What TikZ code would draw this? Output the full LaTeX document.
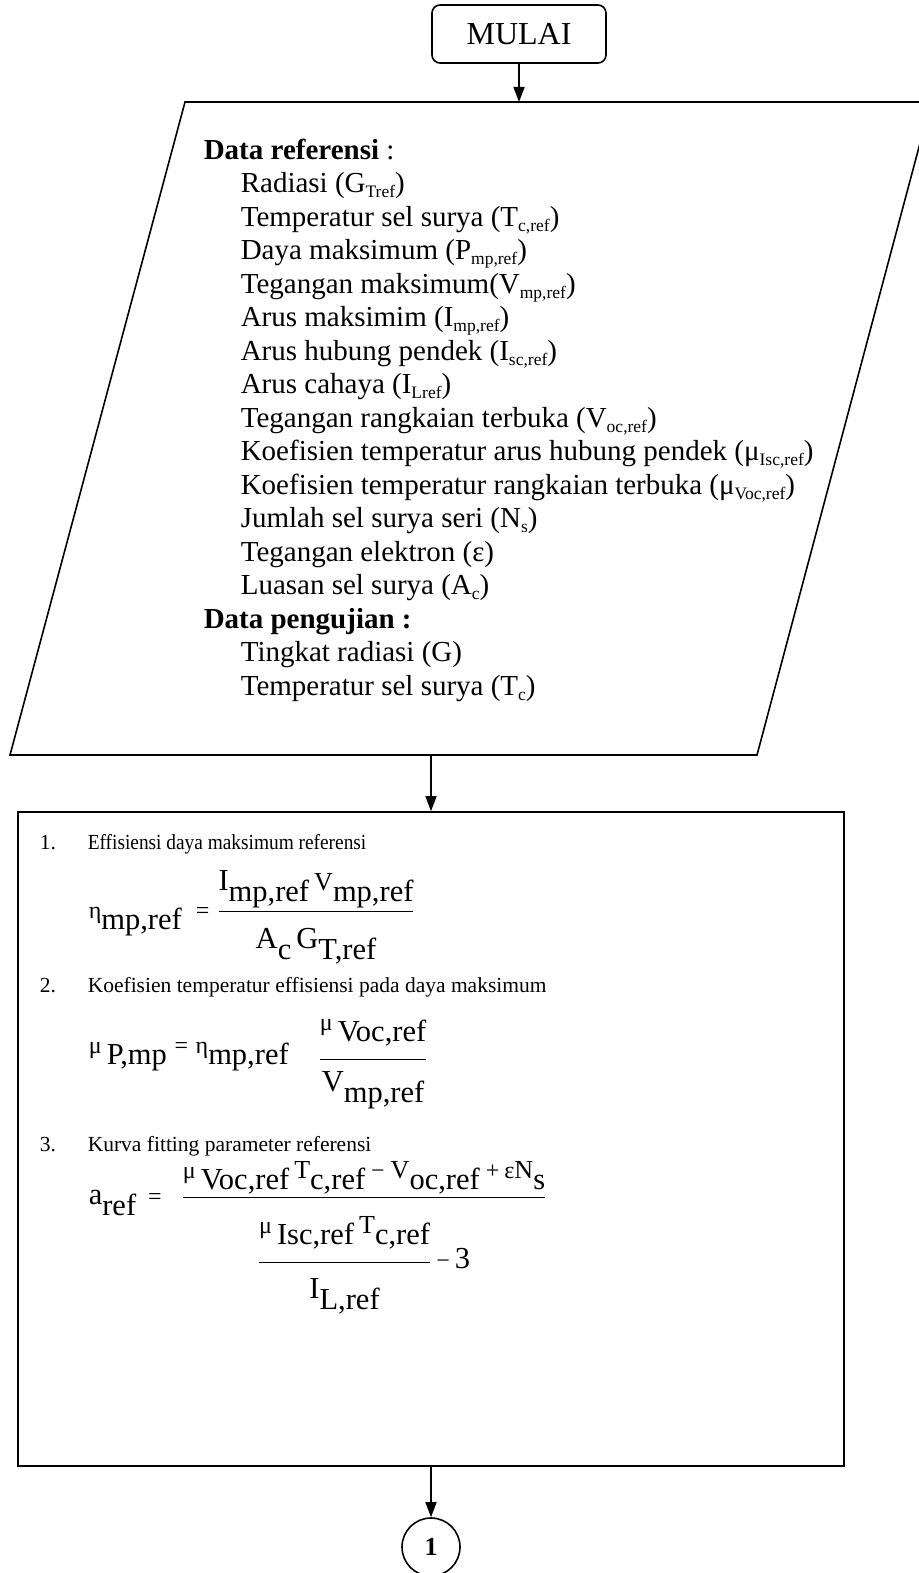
\documentclass[tikz,border=0pt]{standalone}
\usepackage{fontspec}
\setmainfont{Liberation Serif}
\usepackage{amsmath}
\usepackage{graphicx}
\usetikzlibrary{positioning,arrows.meta}

\newcommand{\sbs}[1]{\raisebox{-5pt}{\fontsize{17.5}{17.5}\selectfont #1}}
\newcommand{\itm}[1]{\hspace*{37pt}#1}
\newcommand{\lw}[1]{\raisebox{-11pt}{#1}}
\newcommand{\gk}[1]{{\fontsize{24}{24}\selectfont #1}}
\newcommand{\sm}[1]{{\fontsize{26}{26}\selectfont #1}}

\tikzset{
  startbox/.style={draw, rounded corners=8pt, minimum width=174pt, minimum height=58pt,
    font=\fontsize{32}{36}\selectfont},
  listtext/.style={align=left, inner sep=0pt, font=\fontsize{29}{33.5}\selectfont},
  procbox/.style={draw, minimum width=826pt, minimum height=654pt},
  steptext/.style={inner sep=0pt, font=\fontsize{21.5}{24}\selectfont},
  eqtext/.style={inner sep=0pt, font=\fontsize{30.5}{34}\selectfont},
  connector/.style={draw, circle, minimum size=58pt, inner sep=0pt,
    font=\fontsize{26}{26}\selectfont\bfseries},
}

\begin{document}
\begin{tikzpicture}[x=1pt, y=-1pt, line width=1.6pt, node distance=408pt,
    >={Triangle[length=15pt,width=11pt]}]
  \useasboundingbox (0,0) rectangle (918,1573);

  \node[startbox] (mulai) at (519,34) {MULAI};

  % input data
  \coordinate (inTop) at (519,102);
  \coordinate (inBot) at (431,755);
  \draw (185,102) -- (931,102) -- (757,755) -- (10,755) -- cycle;
  \node[listtext, anchor=north west] (data) at (203,138) {%
    \textbf{Data referensi} :\\
    \itm{Radiasi (G\sbs{Tref})}\\
    \itm{Temperatur sel surya (T\sbs{c,ref})}\\
    \itm{Daya maksimum (P\sbs{mp,ref})}\\
    \itm{Tegangan maksimum(V\sbs{mp,ref})}\\
    \itm{Arus maksimim (I\sbs{mp,ref})}\\
    \itm{Arus hubung pendek (I\sbs{sc,ref})}\\
    \itm{Arus cahaya (I\sbs{Lref})}\\
    \itm{Tegangan rangkaian terbuka (V\sbs{oc,ref})}\\
    \itm{Koefisien temperatur arus hubung pendek (μ\sbs{Isc,ref})}\\
    \itm{Koefisien temperatur rangkaian terbuka (μ\sbs{Voc,ref})}\\
    \itm{Jumlah sel surya seri (N\sbs{s})}\\
    \itm{Tegangan elektron (ε)}\\
    \itm{Luasan sel surya (A\sbs{c})}\\
    \textbf{Data pengujian :}\\
    \itm{Tingkat radiasi (G)}\\
    \itm{Temperatur sel surya (T\sbs{c})}};

  % proses
  \node[procbox] (proc) at (431,1139) {};
  \node[steptext, anchor=base west] (s1) at (39,849)
    {\makebox[48pt][l]{1.}\scalebox{0.9}[1]{Effisiensi daya maksimum referensi}};
  \node[eqtext, anchor=base west] (e1) at (88,918)
    {\gk{η}\lw{mp,ref}\hspace{14pt}\gk{=}\hspace{8pt}%
     $\dfrac{\mbox{I\lw{mp,ref}\,\sm{V}\lw{mp,ref}}}{\mbox{\rule{0pt}{33pt}A\lw{c}\,G\lw{T,ref}}}$};
  \node[steptext, anchor=base west] (s2) at (39,992)
    {\makebox[48pt][l]{2.}Koefisien temperatur effisiensi pada daya maksimum};
  \node[eqtext, anchor=base west] (e2) at (88,1053)
    {\gk{μ}\,\lw{P,mp} \gk{=} \gk{η}\lw{mp,ref}\hspace{30pt}%
     \raisebox{-13pt}{$\dfrac{\mbox{\rule[-26pt]{0pt}{0pt}\gk{μ}\,\lw{Voc,ref}}}{\mbox{\rule{0pt}{28pt}V\lw{mp,ref}}}$}};
  \node[steptext, anchor=base west] (s3) at (39,1151)
    {\makebox[48pt][l]{3.}Kurva fitting parameter referensi};
  \node[eqtext, anchor=base west] (e3) at (88,1204)
    {a\lw{ref}\hspace{12pt}\gk{=}\hspace{20pt}%
     $\dfrac{\mbox{\gk{μ}\,\lw{Voc,ref}\,\sm{T}\lw{c,ref}\hspace{6pt}\gk{−}\hspace{6pt}\sm{V}\lw{oc,ref}\hspace{6pt}\gk{+}\,\gk{ε}\sm{N}\lw{s}}}%
      {\dfrac{\mbox{\rule[-26pt]{0pt}{58pt}\gk{μ}\,\lw{Isc,ref}\,\sm{T}\lw{c,ref}}}{\mbox{\rule{0pt}{32pt}I\lw{L,ref}}}\mbox{\,\gk{−}\,3}}$};

  \node[connector, below of=proc] (con) {1};

  \path (mulai) edge[->] (inTop);
  \path (inBot) edge[->] (proc);
  \path (proc) edge[->] (con);
\end{tikzpicture}
\end{document}
